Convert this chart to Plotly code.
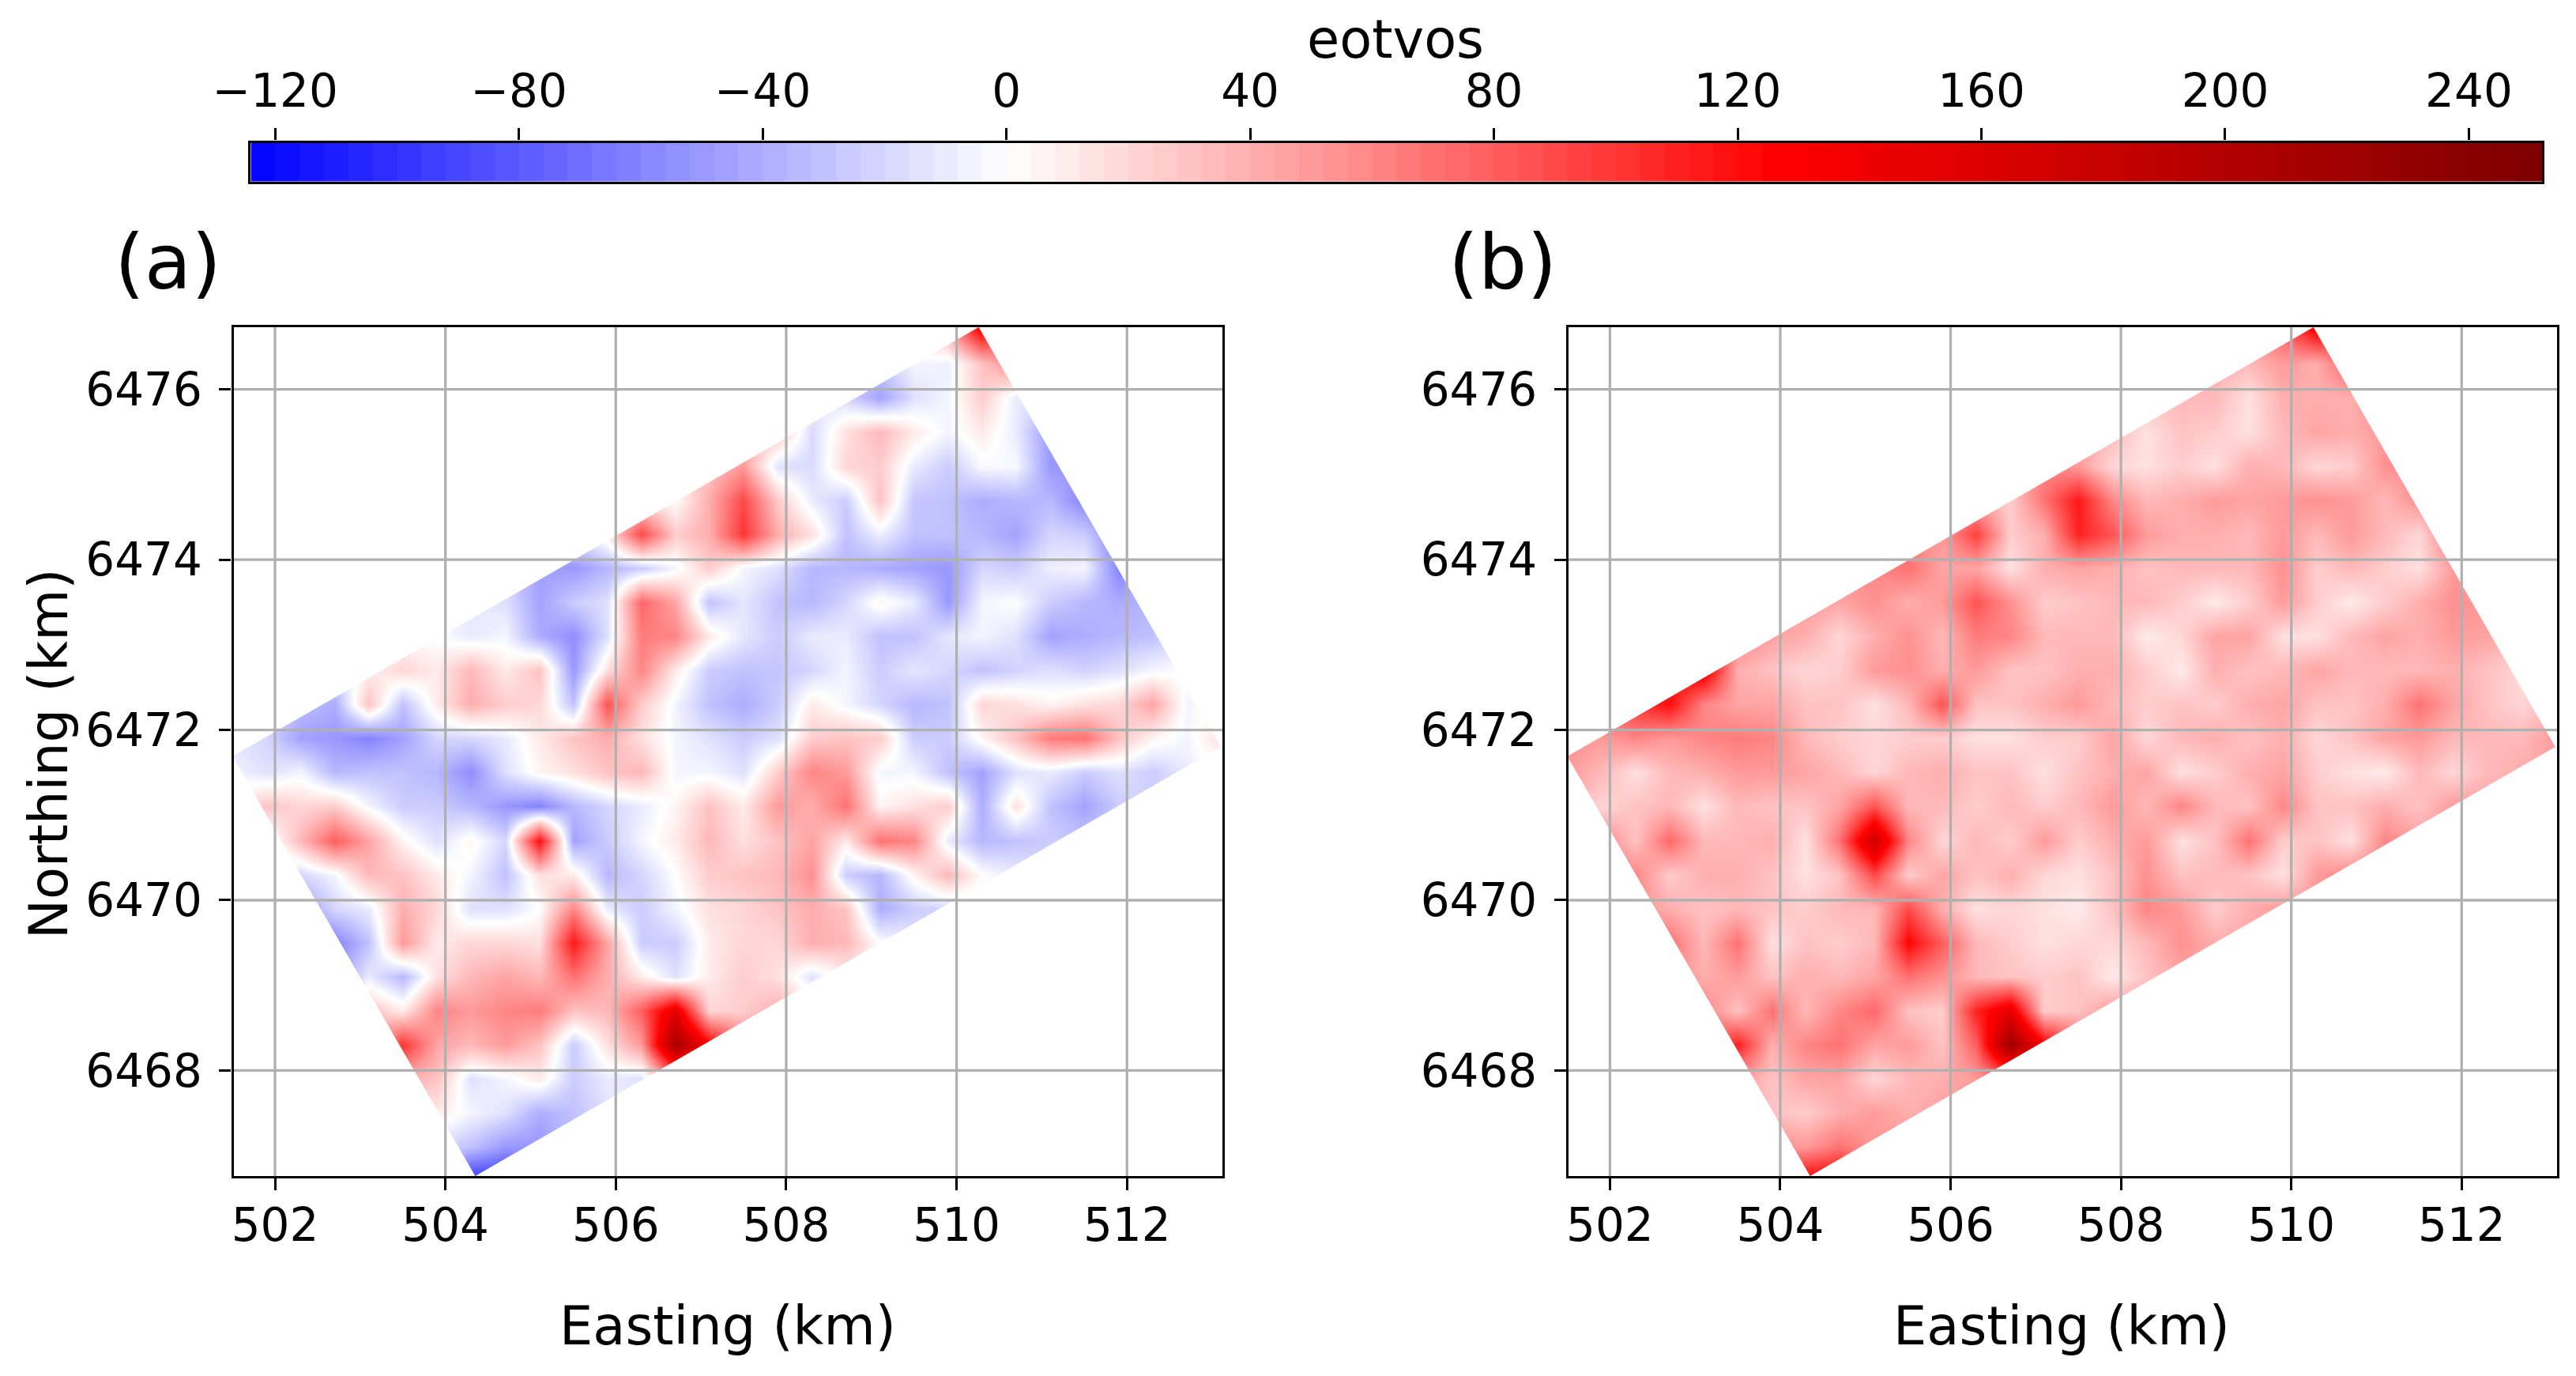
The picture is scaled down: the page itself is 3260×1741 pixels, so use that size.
import plotly.graph_objects as go

# grid of the maps, km
easting = [501.5, 501.9, 502.3, 502.7, 503.1, 503.5, 503.9, 504.3, 504.7, 505.1,
           505.5, 505.9, 506.3, 506.7, 507.1, 507.5, 507.9, 508.3, 508.7, 509.1,
           509.5, 509.9, 510.3, 510.7, 511.1, 511.5, 511.9, 512.3, 512.7, 513.1]
northing = [6476.7, 6476.3, 6475.9, 6475.5, 6475.1, 6474.7, 6474.3, 6473.9, 6473.5,
            6473.1, 6472.7, 6472.3, 6471.9, 6471.5, 6471.1, 6470.7, 6470.3, 6469.9,
            6469.5, 6469.1, 6468.7, 6468.3, 6467.9, 6467.5, 6467.1, 6466.7]

# survey outline
footprint_x = [501.5, 510.26, 513.1, 504.35, 501.5]
footprint_y = [6471.69, 6476.73, 6471.8, 6466.76, 6471.69]

x_ticks = [502, 504, 506, 508, 510, 512]
y_ticks = [6468, 6470, 6472, 6474, 6476]
cbar_ticks = [-120, -80, -40, 0, 40, 80, 120, 160, 200, 240]
cbar_labels = ["−120", "−80", "−40", "0", "40", "80", "120", "160", "200", "240"]
# the colour bands of the bar
cbar_levels = [-122, -118, -114, -110, -106, -102, -98, -94, -90, -86, -82, -78, -74, -70, -66, -62,
               -58, -54, -50, -46, -42, -38, -34, -30, -26, -22, -18, -14, -10, -6, -2, 2, 6, 10, 14,
               18, 22, 26, 30, 34, 38, 42, 46, 50, 54, 58, 62, 66, 70, 74, 78, 82, 86, 90, 94, 98, 102,
               106, 110, 114, 118, 122, 126, 130, 134, 138, 142, 146, 150, 154, 158, 162, 166, 170,
               174, 178, 182, 186, 190, 194, 198, 202, 206, 210, 214, 218, 222, 226, 230, 234, 238,
               242, 246, 250]

# one row per northing: first easting column, then the values
rows_a = [
    (22, [130]),
    (19, [-25, -5, -8, 30, 60]),
    (18, [-20, -45, -15, -5, 25, -10]),
    (16, [30, -18, 15, 35, 10, -5, 10, -10, -50]),
    (14, [30, 50, -15, -18, 20, 25, -10, -25, -3, -3, -50]),
    (12, [10, 0, 40, 90, 25, -10, -25, 30, -28, -30, -40, -35, -35, -60]),
    (11, [10, 90, 25, 40, 100, 40, 15, -30, -8, -30, -30, -35, -45, -20, -25, -60]),
    (9, [-45, -50, -35, -25, -5, 25, -5, -15, -35, -35, -40, -45, -50, -20, -25, -8, -5, -60]),
    (8, [-15, -45, -25, -15, 75, 45, -30, -12, -30, -35, -20, 5, -10, -50, -5, 0, -25, -35, -40]),
    (7, [-10, -5, -40, -55, -15, 65, 60, 10, -12, -25, -10, -10, -30, -30, -12, -5, -15, -45, -40, -35, -30]),
    (5, [20, 10, 35, 10, 30, -50, 15, 60, 10, -25, -30, -28, -20, -5, -25, -12, -20, -30, -22, -15, -22, -15, -5, 0]),
    (3, [-40, 30, -30, 10, 40, 25, 20, -30, 85, 25, -5, -30, -40, -25, 10, -5, -20, -35, -30, 20, 15, 5, 15, 20, 45, -5]),
    (1, [-20, -45, -50, -60, -45, -20, -20, -10, 10, 30, 40, 15, -5, -15, -25, -15, 25, 30, 25, -25, -25, 5, 30, 65, 70, 30, 5, -5, 15]),
    (0, [-5, -15, -5, -35, -30, -30, -35, -55, -15, 5, 15, 30, 35, -5, -5, -15, 25, 60, 50, -5, -5, -30, -45, -15, -10, -25, -15, -25, -10]),
    (1, [30, 20, 25, -5, -25, -25, -35, -50, -60, -35, -20, -10, 5, 30, 10, 50, 40, 70, 5, 15, 25, -40, 15, -30, -45, -25]),
    (1, [-10, 35, 80, 45, 5, -15, 5, -20, 120, -45, -25, -5, 10, 35, 15, 30, 45, 10, 70, 60, -10, -35, -30, -25]),
    (2, [-20, -5, 35, 30, 10, -5, -30, 15, 10, -35, -20, 0, 25, 30, 35, 55, -25, -35, 5, 35, 0, -10]),
    (2, [-50, -20, -10, 40, 20, -15, -15, 0, 60, -10, -25, -5, 15, 20, 30, 40, 30, -40, -25, -20]),
    (3, [-60, -30, 50, 10, 20, 20, 15, 115, 45, -25, -25, 10, 20, 20, 40, 35, 0]),
    (3, [-50, -10, -35, 15, 35, 45, 35, 70, 40, 10, -15, 10, 25, 15, -15]),
    (4, [30, 10, 60, 50, 60, 65, 30, 35, 80, 150, 20, 25, 40]),
    (5, [100, 45, 35, 50, 30, -25, 15, 50, 210, 130]),
    (5, [40, 30, -15, -5, 10, -25, -10, -15, 60]),
    (6, [10, -5, -15, -40, -30]),
    (7, [-30, -50, -50]),
    (7, [-100, -100]),
]

rows_b = [
    (22, [130]),
    (20, [35, 50, 40, 80]),
    (18, [35, 35, 15, 40, 40, 40]),
    (16, [35, 15, 30, 25, 15, 35, 45, 40, 50]),
    (14, [60, 50, 20, 15, 25, 15, 40, 35, 20, 25, 55]),
    (12, [40, 25, 70, 115, 60, 35, 40, 50, 45, 50, 55, 50, 35, 55]),
    (11, [50, 95, 25, 40, 110, 85, 50, 40, 40, 35, 50, 35, 50, 35, 20, 70]),
    (10, [70, 45, 45, 15, 40, 45, 40, 30, 35, 35, 35, 55, 25, 35, 25, 15, 50]),
    (8, [45, 55, 40, 50, 85, 55, 25, 30, 35, 35, 25, 10, 25, 50, 25, 10, 25, 40, 55]),
    (7, [40, 20, 40, 55, 35, 65, 60, 35, 35, 35, 10, 20, 45, 45, 15, 15, 35, 45, 40, 50, 45]),
    (4, [140, 40, 30, 20, 25, 50, 55, 40, 50, 30, 30, 40, 40, 25, 10, 40, 30, 35, 45, 35, 35, 35, 40, 30, 20]),
    (2, [100, 120, 60, 45, 45, 30, 30, 15, 35, 85, 30, 30, 40, 50, 35, 25, 30, 25, 40, 45, 30, 30, 40, 70, 45, 30, 20]),
    (1, [50, 60, 50, 60, 65, 60, 35, 25, 20, 25, 25, 15, 15, 25, 25, 45, 20, 35, 40, 30, 40, 20, 30, 45, 50, 35, 35, 35, 50]),
    (0, [50, 35, 15, 35, 40, 50, 50, 45, 35, 20, 35, 40, 30, 30, 15, 30, 40, 45, 15, 25, 40, 45, 25, 15, 10, 35, 20, 35, 40]),
    (1, [20, 30, 35, 15, 35, 30, 30, 45, 85, 35, 35, 25, 35, 25, 35, 50, 35, 60, 35, 30, 60, 30, 30, 40, 30, 50]),
    (1, [60, 30, 75, 35, 35, 40, 15, 70, 175, 60, 20, 35, 25, 50, 25, 40, 50, 15, 30, 70, 25, 30, 15, 60]),
    (2, [60, 25, 40, 40, 30, 15, 30, 90, 25, 45, 30, 40, 20, 15, 30, 55, 30, 35, 30, 15, 50, 60]),
    (3, [40, 30, 35, 30, 25, 35, 35, 90, 40, 15, 20, 15, 10, 30, 60, 50, 25, 40, 50]),
    (3, [70, 35, 70, 15, 30, 25, 35, 125, 80, 35, 25, 15, 20, 20, 35, 55, 40]),
    (4, [40, 50, 30, 40, 35, 45, 70, 55, 35, 30, 25, 30, 10, 30]),
    (4, [60, 30, 70, 35, 60, 75, 30, 25, 110, 150, 25, 30, 50]),
    (5, [110, 40, 60, 70, 45, 50, 30, 80, 220, 130]),
    (5, [50, 30, 45, 45, 20, 35, 40, 50, 70]),
    (6, [30, 25, 40, 50, 40]),
    (7, [50, 70, 50]),
    (7, [130, 130]),
]


def expand(rows):
    # pad each row with gaps outside the survey area
    grid = []
    for first, values in rows:
        grid.append([None] * first + values + [None] * (len(easting) - first - len(values)))
    return grid


W, H = 3260, 1741
x_range = [501.514, 513.12]
y_range = [6466.76, 6476.73]
cbar_range = [-124, 252]
panels = [("x", "y", expand(rows_a)), ("x2", "y2", expand(rows_b))]

# seismic, clipped at the range the colorbar shows
vmin, vmax = cbar_range
seismic = [
    [0, "rgb(0,0,255)"],
    [(0 - vmin) / (vmax - vmin), "rgb(255,255,255)"],
    [(126 - vmin) / (vmax - vmin), "rgb(255,0,0)"],
    [1, "rgb(125,0,0)"],
]

fig = go.Figure()

for xa, ya, grid in panels:
    fig.add_trace(go.Heatmap(x=easting, y=northing, z=grid, xaxis=xa, yaxis=ya,
                             coloraxis="coloraxis", zsmooth="best", connectgaps=True,
                             hoverinfo="skip"))
    # white cover for everything outside the outline
    mask_x = [x_range[0] - 1, x_range[1] + 1, x_range[1] + 1, x_range[0] - 1, x_range[0] - 1] + footprint_x + [x_range[0] - 1]
    mask_y = [y_range[0] - 1, y_range[0] - 1, y_range[1] + 1, y_range[1] + 1, footprint_y[0]] + footprint_y + [footprint_y[0]]
    fig.add_trace(go.Scatter(x=mask_x, y=mask_y, xaxis=xa, yaxis=ya, mode="none", fill="toself",
                             fillcolor="white", showlegend=False, hoverinfo="skip"))
    # grid sits on top of the image
    for t in x_ticks:
        fig.add_trace(go.Scatter(x=[t, t], y=y_range, xaxis=xa, yaxis=ya, mode="lines",
                                 line=dict(color="#b0b0b0", width=3.3), showlegend=False, hoverinfo="skip"))
    for t in y_ticks:
        fig.add_trace(go.Scatter(x=x_range, y=[t, t], xaxis=xa, yaxis=ya, mode="lines",
                                 line=dict(color="#b0b0b0", width=3.3), showlegend=False, hoverinfo="skip"))

# colorbar as its own strip, so its ticks can sit on top
fig.add_trace(go.Heatmap(x=cbar_levels, y=[0, 1], z=[cbar_levels, cbar_levels], xaxis="x3", yaxis="y3",
                         coloraxis="coloraxis", hoverinfo="skip"))

font = "DejaVu Sans"
axis_style = dict(showgrid=False, zeroline=False, showline=True, mirror=True, linecolor="black",
                  linewidth=3.3, ticks="outside", ticklen=15, tickwidth=3.3, tickcolor="black",
                  tickfont=dict(family=font, size=58, color="black"), automargin=False)
x_style = dict(ticklabelstandoff=-6, **axis_style)
y_style = dict(ticklabelstandoff=10, **axis_style)


def label(text, x, y, size=67, angle=0):
    return dict(text=text, x=x / W, y=1 - y / H, xref="paper", yref="paper", xanchor="center", yanchor="middle",
                textangle=angle, showarrow=False, font=dict(family=font, size=size, color="black"))


fig.update_layout(
    width=W, height=H, autosize=False, margin=dict(l=0, r=0, t=0, b=0),
    paper_bgcolor="white", plot_bgcolor="white", showlegend=False,
    font=dict(family=font, color="black"),
    xaxis=dict(domain=[295.6 / W, 1547 / W], range=x_range, tickvals=x_ticks, anchor="y", **x_style),
    yaxis=dict(domain=[1 - 1488 / H, 1 - 414 / H], range=y_range, tickvals=y_ticks, anchor="x", **y_style),
    xaxis2=dict(domain=[1985 / W, 3236 / W], range=x_range, tickvals=x_ticks, anchor="y2", **x_style),
    yaxis2=dict(domain=[1 - 1488 / H, 1 - 414 / H], range=y_range, tickvals=y_ticks, anchor="x2", **y_style),
    xaxis3=dict(domain=[317.4 / W, 3217 / W], range=cbar_range, tickvals=cbar_ticks, ticktext=cbar_labels,
                side="top", anchor="y3", ticklabelstandoff=4, **axis_style),
    yaxis3=dict(domain=[1 - 229.5 / H, 1 - 180.5 / H], range=[0, 1], anchor="x3", showgrid=False, zeroline=False,
                showline=True, mirror=True, linecolor="black", linewidth=3.3, ticks="", showticklabels=False,
                automargin=False),
    coloraxis=dict(colorscale=seismic, cmin=vmin, cmax=vmax, showscale=False),
    annotations=[
        label("(a)", 212, 332, size=97),
        label("(b)", 1902, 332, size=97),
        label("eotvos", 1766, 50),
        label("Easting (km)", 921, 1678),
        label("Easting (km)", 2609, 1678),
        label("Northing (km)", 62, 954, angle=-90),
    ],
)

fig.write_html("out.html", post_script="document.body.style.margin = '0';",
               config={"displayModeBar": False})
